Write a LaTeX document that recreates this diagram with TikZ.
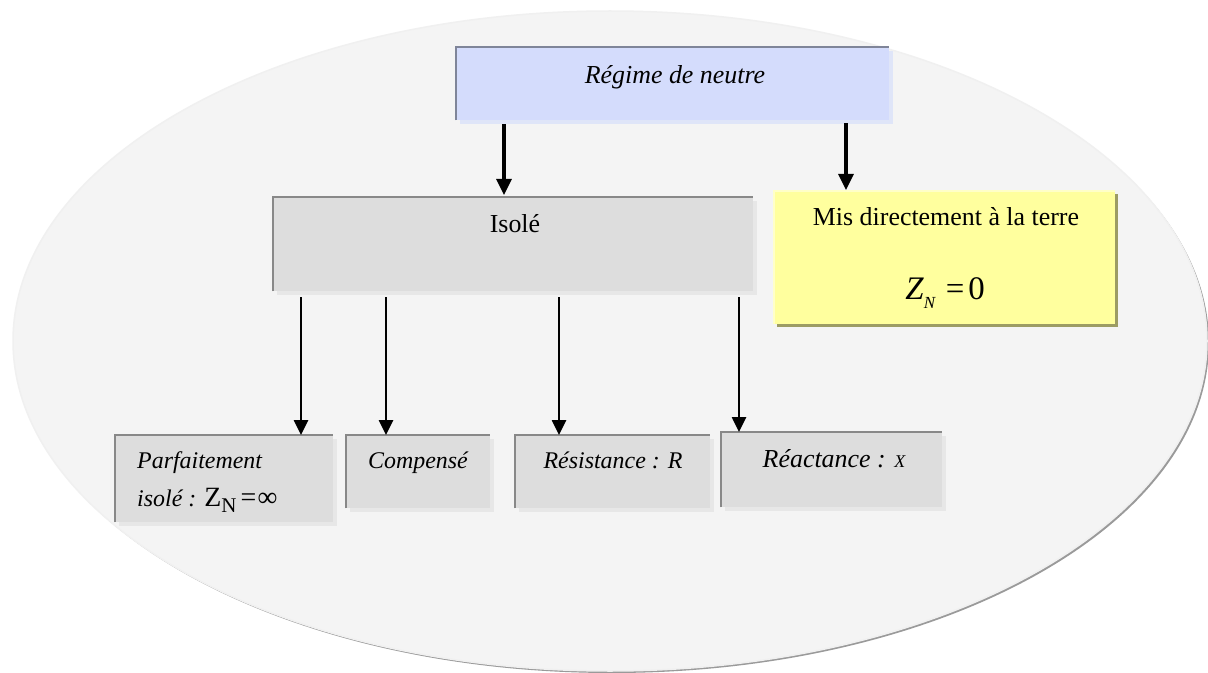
\documentclass[tikz,border=0pt]{standalone}
\usepackage{fontspec}
\setmainfont{Liberation Serif}
\usetikzlibrary{arrows.meta,shadows,calc}
\definecolor{ellfill}{HTML}{F4F4F4}
\definecolor{ellline}{HTML}{F0F0F0}
\definecolor{ellshadow}{HTML}{9A9A9A}
\definecolor{boxgray}{HTML}{DDDDDD}
\definecolor{bordgray}{HTML}{888888}
\definecolor{shgray}{HTML}{E7E7E7}
\definecolor{boxblue}{HTML}{D4DCFC}
\definecolor{bordblue}{HTML}{7F8599}
\definecolor{shblue}{HTML}{DFE5F8}
\definecolor{boxyellow}{HTML}{FFFF9E}
\definecolor{shyellow}{HTML}{9C9C64}
\definecolor{edgeyellow}{HTML}{FFFFC8}
\newcommand{\fs}[1]{\fontsize{#1}{#1}\selectfont}
\begin{document}
\begin{tikzpicture}[x=1bp,y=-1bp,
  boxbase/.style={draw=none, inner sep=0pt, anchor=north west},
  graybox/.style={boxbase, fill=boxgray,
     drop shadow={shadow xshift=4bp, shadow yshift=-4bp, fill=shgray, opacity=1}},
  bluebox/.style={boxbase, fill=boxblue,
     drop shadow={shadow xshift=4bp, shadow yshift=-4bp, fill=shblue, opacity=1}},
  yellowbox/.style={boxbase, fill=boxyellow,
     drop shadow={shadow xshift=3bp, shadow yshift=-3bp, fill=shyellow, opacity=1}},
  edgeg/.style={draw=bordgray, line width=2.2bp},
  edgeb/.style={draw=bordblue, line width=2.6bp},
  arrtop/.style={line width=3.2bp, -{Triangle[length=16bp,width=15bp]}},
  arrlow/.style={line width=2.6bp, -{Triangle[length=15bp,width=14bp]}},
  lbl/.style={inner sep=0pt, anchor=base}
]
\useasboundingbox (0,0) rectangle (1208,673);
\fill[white] (0,0) rectangle (1208,673);

% background ellipse
\fill[ellshadow] (612,343) ellipse [x radius=597, y radius=330];
\filldraw[fill=ellfill, draw=ellline, line width=1.5bp] (610,341) ellipse [x radius=597, y radius=330];

% boxes
\node[bluebox, minimum width=433bp, minimum height=73bp] (reg) at (456,47) {};
\draw[edgeb] (reg.south west) |- (reg.north east);

\node[graybox, minimum width=480bp, minimum height=94bp] (iso) at (273,197) {};
\draw[edgeg] (iso.south west) |- (iso.north east);

\node[yellowbox, minimum width=341bp, minimum height=133bp] (mis) at (774,191) {};
\draw[edgeyellow, line width=1.2bp] (mis.south west) |- (mis.north east);

\node[graybox, minimum width=218bp, minimum height=87bp] (par) at (115,435) {};
\draw[edgeg] (par.south west) |- (par.north east);

\node[graybox, minimum width=144bp, minimum height=73bp] (com) at (346,435) {};
\draw[edgeg] (com.south west) |- (com.north east);

\node[graybox, minimum width=195bp, minimum height=73bp] (res) at (515,435) {};
\draw[edgeg] (res.south west) |- (res.north east);

\node[graybox, minimum width=221bp, minimum height=75bp] (rea) at (721,432) {};
\draw[edgeg] (rea.south west) |- (rea.north east);

% texts
\node[lbl, font=\fs{26}\itshape] (treg) at (675,84) {Régime de neutre};
\node[lbl, font=\fs{26}] (tiso) at (515,233) {Isolé};
\node[lbl, font=\fs{26}] (tmis) at (946,226) {Mis directement à la terre};
\node[lbl, font=\fs{33}] (tz) at (945,299) {\textit{Z}\raisebox{-0.28em}{\fs{17}\textit{N}}\hspace{0.3em}=\hspace{0.12em}0};
\node[lbl, anchor=base west, font=\fs{24}\itshape] (tpar1) at (137,468) {Parfaitement};
\node[lbl, anchor=base west, font=\fs{24}] (tpar2) at (137,506) {\textit{isolé :} \fs{28}Z\raisebox{-0.25em}{\fs{21}N}\hspace{0.15em}=\hspace{0.05em}∞};
\node[lbl, anchor=base west, font=\fs{24}\itshape] (tcom) at (368,468) {Compensé};
\node[lbl, font=\fs{24}\itshape] (tres) at (613,468) {Résistance : R};
\node[lbl, font=\fs{26}\itshape] (trea) at (834,467) {Réactance : {\fs{18}X}};

% connectors
\coordinate (xa) at (504,0);
\coordinate (xb) at (846,0);
\coordinate (x1) at (301,0);
\coordinate (x2) at (386,0);
\coordinate (x3) at (559,0);
\coordinate (x4) at (739,0);
\draw[arrtop, shorten <=4bp, shorten >=2bp] (reg.south -| xa) -- (iso.north -| xa);
\draw[arrtop, shorten <=3bp, shorten >=1bp] (reg.south -| xb) -- (mis.north -| xb);
\draw[arrlow, shorten <=6bp] (iso.south -| x1) -- (par.north -| x1);
\draw[arrlow, shorten <=6bp] (iso.south -| x2) -- (com.north -| x2);
\draw[arrlow, shorten <=6bp] (iso.south -| x3) -- (res.north -| x3);
\draw[arrlow, shorten <=6bp] (iso.south -| x4) -- (rea.north -| x4);
\end{tikzpicture}
\end{document}
